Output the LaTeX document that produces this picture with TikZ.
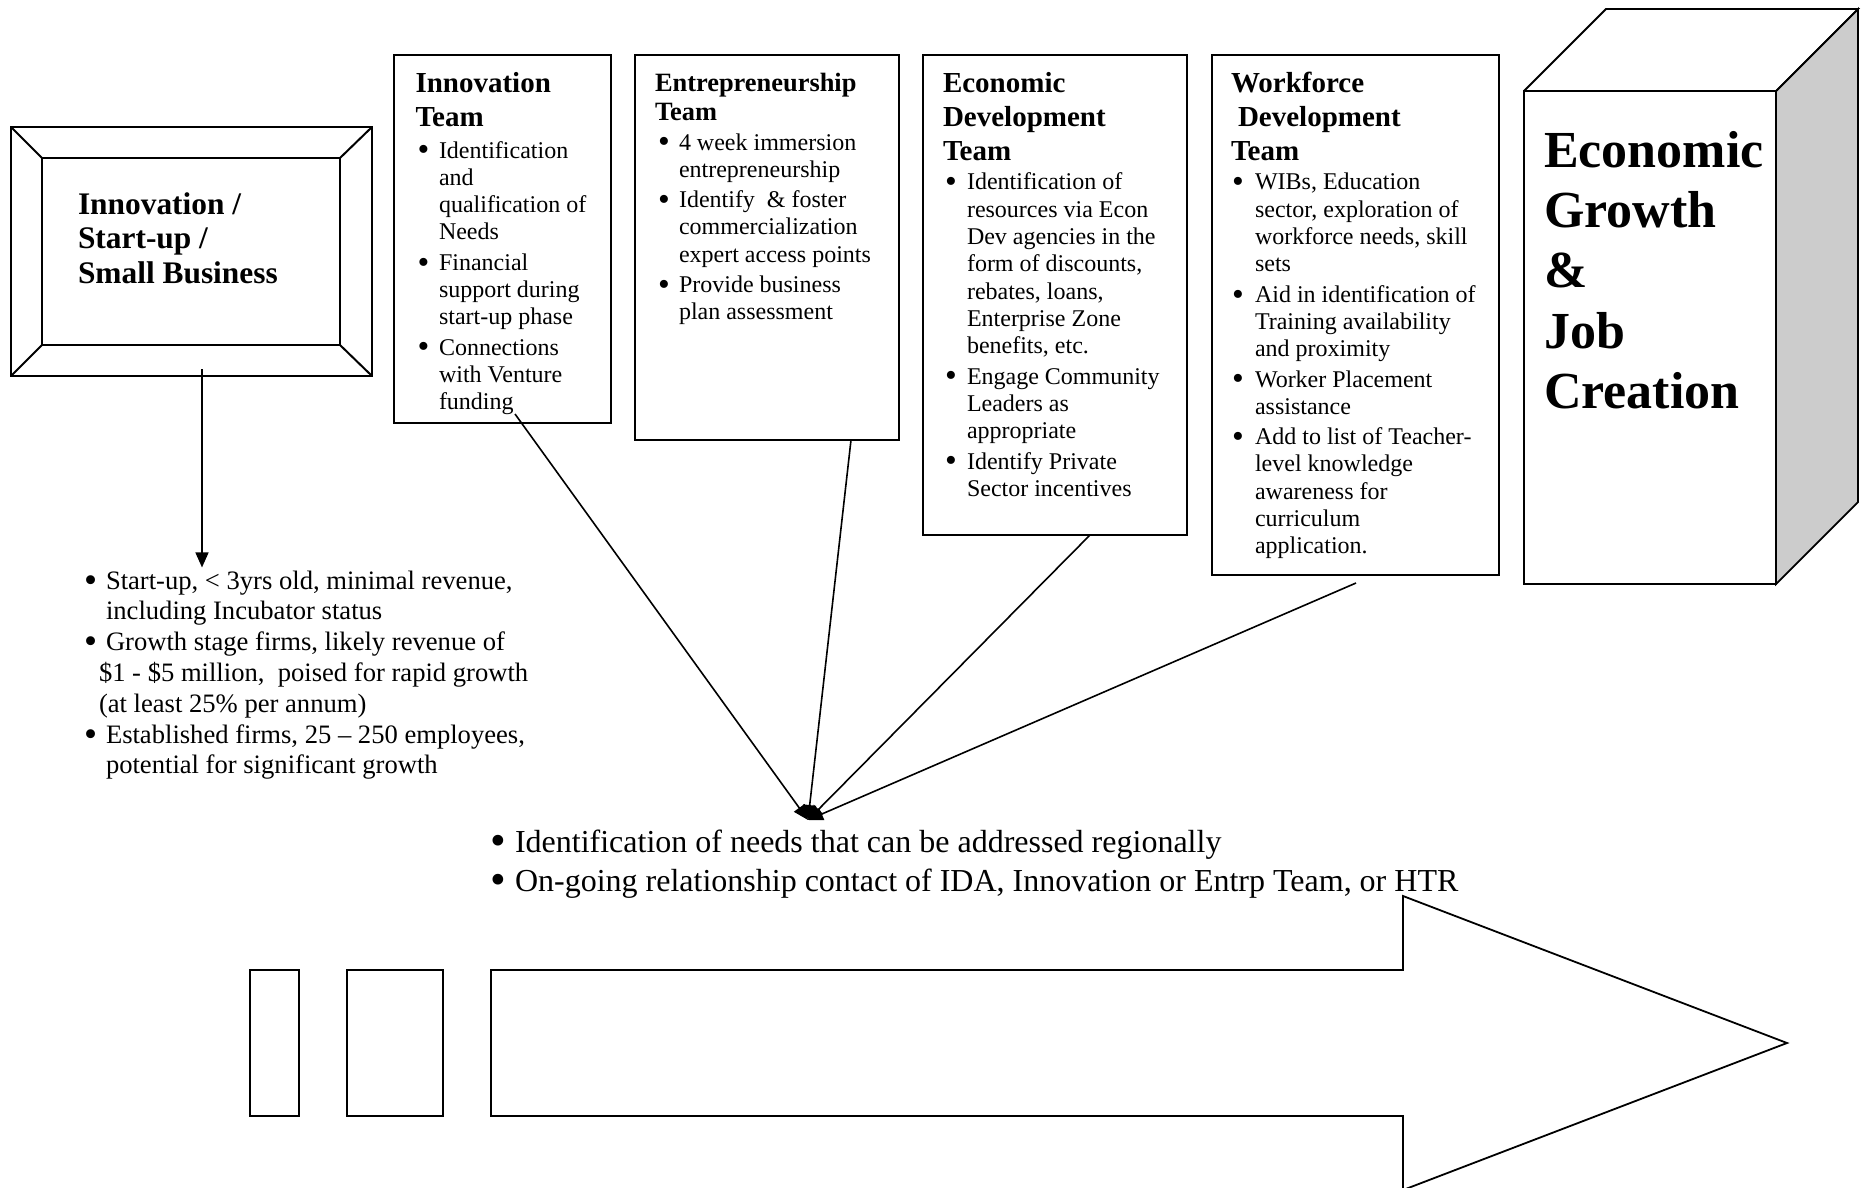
\documentclass[tikz,border=0pt]{standalone}
\usepackage{fontspec}
\setmainfont{Liberation Serif}
\usepackage{graphicx}
\usetikzlibrary{arrows.meta,fit,calc}
\definecolor{sidegray}{gray}{0.8}
\newlength\bw
\newcommand\bl{\makebox[\bw][l]{\raisebox{-0.12em}{\scalebox{1.4}{\textbullet}}}}
\newcommand\nb{\hspace*{\bw}}
\begin{document}
\begin{tikzpicture}[x=0.5pt,y=-0.5pt,
  frameline/.style={line width=1pt},
  teambox/.style={draw,line width=1.1pt,inner sep=0pt,outer sep=0pt},
  lbl/.style={anchor=base west,inner sep=0pt,outer sep=0pt},
  ttl/.style={lbl,font=\fontsize{14.5}{17}\selectfont\bfseries},
  body/.style={lbl,font=\fontsize{12}{13.65}\selectfont},
  conn/.style={line width=0.8pt,-{Triangle[length=7.5pt,width=6.5pt]}},
  thinline/.style={line width=0.9pt},
]
\useasboundingbox (0,0) rectangle (1868,1188);

% ---- left bevelled frame
\node[teambox,line width=1pt,fit={(11,127)(372,376)}] (frame) {};
\node[teambox,line width=1pt,fit={(42,158)(340,345)}] (frameIn) {};
\foreach \a in {north west,north east,south west,south east}
  \draw[frameline] (frame.\a) -- (frameIn.\a);
\node[lbl,font=\fontsize{15.7}{17.25}\selectfont\bfseries] (startTxt) at (78,214)
  {\begin{tabular}[t]{@{}l@{}}Innovation /\\Start-up /\\Small Business\end{tabular}};

% ---- team boxes
\node[teambox,fit={(394,55)(611,423)}] (inn) {};
\node[teambox,fit={(635,55)(899,440)}] (ent) {};
\node[teambox,fit={(923,55)(1187,535)}] (eco) {};
\node[teambox,fit={(1212,55)(1499,575)}] (wf) {};

\node[ttl] (innT) at (415.5,93)
  {\begin{tabular}[t]{@{}l@{}}Innovation\\Team\end{tabular}};
\node[lbl,font=\fontsize{13.2}{14}\selectfont\bfseries] (entT) at (655,92)
  {\begin{tabular}[t]{@{}l@{}}Entrepreneurship\\Team\end{tabular}};
\node[ttl] (ecoT) at (943,93)
  {\begin{tabular}[t]{@{}l@{}}Economic\\Development\\Team\end{tabular}};
\node[ttl] (wfT) at (1231,93)
  {\begin{tabular}[t]{@{}l@{}}Workforce\\\hspace*{3.5pt}Development\\Team\end{tabular}};

\node[body] (innB) at (417.5,158)
  {\setlength\bw{10.75pt}\begin{tabular}[t]{@{}l@{}}
  \bl Identification\\
  \nb and\\
  \nb qualification of\\
  \nb Needs\\[1.5pt]
  \bl Financial\\
  \nb support during\\
  \nb start-up phase\\[1.5pt]
  \bl Connections\\
  \nb with Venture\\
  \nb funding
  \end{tabular}};

\node[body] (entB) at (658,150)
  {\setlength\bw{10.5pt}\begin{tabular}[t]{@{}l@{}}
  \bl 4 week immersion\\
  \nb entrepreneurship\\[1.5pt]
  \bl Identify \ \& foster\\
  \nb commercialization\\
  \nb expert access points\\[1.5pt]
  \bl Provide business\\
  \nb plan assessment
  \end{tabular}};

\node[body] (ecoB) at (945,190)
  {\setlength\bw{11pt}\begin{tabular}[t]{@{}l@{}}
  \bl Identification of\\
  \nb resources via Econ\\
  \nb Dev agencies in the\\
  \nb form of discounts,\\
  \nb rebates, loans,\\
  \nb Enterprise Zone\\
  \nb benefits, etc.\\[1.5pt]
  \bl Engage Community\\
  \nb Leaders as\\
  \nb appropriate\\[1.5pt]
  \bl Identify Private\\
  \nb Sector incentives
  \end{tabular}};

\node[body] (wfB) at (1232,190)
  {\setlength\bw{11.5pt}\begin{tabular}[t]{@{}l@{}}
  \bl WIBs, Education\\
  \nb sector, exploration of\\
  \nb workforce needs, skill\\
  \nb sets\\[1.5pt]
  \bl Aid in identification of\\
  \nb Training availability\\
  \nb and proximity\\[1.5pt]
  \bl Worker Placement\\
  \nb assistance\\[1.5pt]
  \bl Add to list of Teacher-\\
  \nb level knowledge\\
  \nb awareness for\\
  \nb curriculum\\
  \nb application.
  \end{tabular}};

% ---- goal cube
\node[draw,line width=0.8pt,inner sep=0pt,outer sep=0pt,fit={(1524,91)(1776,584)}] (goal) {};
\filldraw[thinline,fill=sidegray] (goal.north east) -- ++(82,-82) -- ++(0,493) -- (goal.south east) -- cycle;
\draw[thinline] (goal.north west) -- ++(82,-82) -- ++(252,0) -- (goal.north east);
\node[lbl,font=\fontsize{26}{30.2}\selectfont\bfseries] (goalT) at (1544,167)
  {\begin{tabular}[t]{@{}l@{}}Economic\\Growth\\\&\\Job\\Creation\end{tabular}};

% ---- stage list
\node[lbl,font=\fontsize{13.3}{15.4}\selectfont] (stages) at (84,589)
  {\setlength\bw{11pt}\begin{tabular}[t]{@{}l@{}}
  \bl Start-up, < 3yrs old, minimal revenue,\\
  \nb including Incubator status\\
  \bl Growth stage firms, likely revenue of\\
  \hspace*{7.5pt}\$1 - \$5 million, \ poised for rapid growth\\
  \hspace*{7.5pt}(at least 25\% per annum)\\
  \bl Established firms, 25 -- 250 employees,\\
  \nb potential for significant growth
  \end{tabular}};

\coordinate (dn) at ($(frame.south)+(10.5,-7)$);
\draw[conn] (dn) -- (dn |- stages.north);

% ---- needs text
\node[lbl,font=\fontsize{16}{19.5}\selectfont] (needs) at (490,852)
  {\setlength\bw{12.5pt}\begin{tabular}[t]{@{}l@{}}
  \bl Identification of needs that can be addressed regionally\\
  \bl On-going relationship contact of IDA, Innovation or Entrp Team, or HTR
  \end{tabular}};

% ---- fan of connectors
\coordinate (hub) at (808,820);
\draw[conn] ($(inn.south west)+(121,-9)$) -- (hub);
\draw[conn] ($(ent.south west)+(216,0)$) -- (hub);
\draw[conn] ($(eco.south west)+(167,0)$) -- (hub);
\draw[conn] ($(wf.south west)+(144,8)$) -- (hub);

% ---- big arrow and bars
\draw[thinline] (491,970) -- (1403,970) -- (1403,896) -- (1787,1043) -- (1403,1190)
  -- (1403,1116) -- (491,1116) -- cycle;
\draw[thinline] (250,970) rectangle (299,1116);
\draw[thinline] (347,970) rectangle (443,1116);
\end{tikzpicture}
\end{document}
